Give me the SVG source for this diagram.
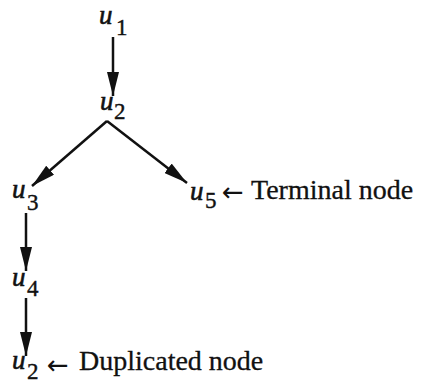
<svg xmlns="http://www.w3.org/2000/svg" width="426" height="385" viewBox="0 0 426 385">
<style>
.u{font-family:"Liberation Serif",serif;font-style:italic;font-size:27px;fill:#111;stroke:#111;stroke-width:0.6}
.s{font-family:"Liberation Serif",serif;font-size:23px;fill:#111;stroke:#111;stroke-width:0.4}
.t{font-family:"Liberation Serif",serif;font-size:28px;fill:#111;stroke:#111;stroke-width:0.3}
.a{font-family:"DejaVu Sans",sans-serif;font-size:26px;fill:#111}
.e{stroke:#111;stroke-width:2.5;fill:none;marker-end:url(#ah)}
</style>
<defs>
<marker id="ah" markerUnits="userSpaceOnUse" markerWidth="24" markerHeight="12" refX="24" refY="6" orient="auto" viewBox="0 0 24 12">
<path d="M0,0 L24,6 L0,12 z" fill="#111"/>
</marker>
</defs>
<rect width="426" height="385" fill="#fff"/>
<g id="connectors">
<line class="e" x1="113" y1="37" x2="113" y2="96"/>
<line class="e" x1="107" y1="121" x2="32" y2="186"/>
<line class="e" x1="107" y1="121" x2="187" y2="183"/>
<line class="e" x1="26" y1="213" x2="26" y2="271"/>
<line class="e" x1="26" y1="298" x2="26" y2="356"/>
</g>
<g id="u1"><text class="u" x="99" y="24">u</text><text class="s" x="116" y="35">1</text></g>
<g id="u2"><text class="u" x="100" y="110">u</text><text class="s" x="114" y="119">2</text></g>
<g id="u3"><text class="u" x="12" y="198">u</text><text class="s" x="27" y="210">3</text></g>
<g id="u5"><text class="u" x="190" y="200">u</text><text class="s" x="205" y="208">5</text><text class="a" x="222" y="201">←</text><text class="t" x="251" y="199">Terminal node</text></g>
<g id="u4"><text class="u" x="12" y="286">u</text><text class="s" x="27" y="296">4</text></g>
<g id="u2dup"><text class="u" x="12" y="369">u</text><text class="s" x="27" y="379">2</text><text class="a" x="47" y="374">←</text><text class="t" x="79" y="370">Duplicated node</text></g>
</svg>
